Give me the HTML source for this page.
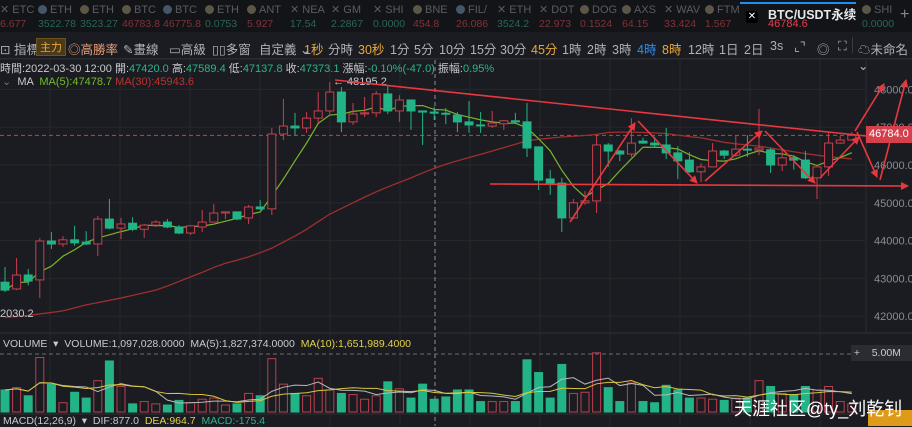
<!DOCTYPE html>
<html><head><meta charset="utf-8"><style>
*{margin:0;padding:0;box-sizing:border-box}
body{width:912px;height:426px;overflow:hidden;background:#1b1c21;font-family:"Liberation Sans","Noto Sans CJK TC",sans-serif;color:#9a9ca3;position:relative}
.abs{position:absolute;white-space:nowrap}
#ticker{position:absolute;left:0;top:0;width:912px;height:32px;background:#131417}
.tk{position:absolute;top:4px;font-size:11px;line-height:12px}
.tk .n{color:#5a5c62}.tk .v{display:block;margin-top:2px;font-size:10.5px;opacity:.8}
.ic{display:inline-block;width:9px;height:9px;border-radius:50%;background:#5b5645;vertical-align:-1px;margin-right:3px}
#tools{position:absolute;left:0;top:33px;width:912px;height:26px;border-bottom:1px solid #2b2c31;font-size:12.5px;color:#b0b2b8}
#tools span{position:absolute;top:6px}
svg{position:absolute;left:0;top:0}
</style></head><body>
<div id="ticker">
<div class="tk" style="left:0"><span class="n">✕ ETC</span><span class="v" style="color:#9b3a43">6.677</span></div>
<div class="tk" style="left:38px"><span class="n"><i class="ic" style="background:#45566a"></i>ETH</span><span class="v" style="color:#2f7b63">3522.78</span></div>
<div class="tk" style="left:80px"><span class="n"><i class="ic"></i>ETH</span><span class="v" style="color:#2f7b63">3523.27</span></div>
<div class="tk" style="left:122px"><span class="n"><i class="ic"></i>BTC</span><span class="v" style="color:#9b3a43">46783.8</span></div>
<div class="tk" style="left:163px"><span class="n"><i class="ic" style="background:#45566a"></i>BTC</span><span class="v" style="color:#9b3a43">46775.8</span></div>
<div class="tk" style="left:205px"><span class="n"><i class="ic"></i>ETH</span><span class="v" style="color:#2f7b63">0.0753</span></div>
<div class="tk" style="left:247px"><span class="n"><i class="ic"></i>ANT</span><span class="v" style="color:#9b3a43">5.927</span></div>
<div class="tk" style="left:290px"><span class="n">✕ NEA</span><span class="v" style="color:#2f7b63">17.54</span></div>
<div class="tk" style="left:331px"><span class="n">✕ GM</span><span class="v" style="color:#2f7b63">2.2867</span></div>
<div class="tk" style="left:373px"><span class="n">✕ SHI</span><span class="v" style="color:#2f7b63">0.0000</span></div>
<div class="tk" style="left:413px"><span class="n"><i class="ic"></i>BNE</span><span class="v" style="color:#9b3a43">454.8</span></div>
<div class="tk" style="left:456px"><span class="n"><i class="ic" style="background:#45566a"></i>FIL/</span><span class="v" style="color:#9b3a43">26.086</span></div>
<div class="tk" style="left:497px"><span class="n">✕ ETH</span><span class="v" style="color:#2f7b63">3524.2</span></div>
<div class="tk" style="left:539px"><span class="n">✕ DOT</span><span class="v" style="color:#9b3a43">22.973</span></div>
<div class="tk" style="left:580px"><span class="n"><i class="ic"></i>DOG</span><span class="v" style="color:#9b3a43">0.1524</span></div>
<div class="tk" style="left:622px"><span class="n"><i class="ic"></i>AXS</span><span class="v" style="color:#9b3a43">64.15</span></div>
<div class="tk" style="left:664px"><span class="n">✕ WAV</span><span class="v" style="color:#9b3a43">33.424</span></div>
<div class="tk" style="left:705px"><span class="n"><i class="ic"></i>FTM</span><span class="v" style="color:#9b3a43">1.567</span></div>
<div class="abs" style="left:740px;top:2px;width:116px;height:2px;background:#1f8ff0"></div>
<div class="abs" style="left:746px;top:11px;width:12px;height:12px;background:#000;border-radius:2px;color:#fff;font-size:10px;line-height:12px;text-align:center">✕</div>
<div class="abs" style="left:768px;top:4px;font-size:12.5px;font-weight:bold;color:#e6e7ea">BTC/USDT永续</div>
<div class="abs" style="left:768px;top:18px;font-size:11px;color:#e0404e">46784.6</div>
<div class="tk" style="left:862px"><span class="n"><i class="ic"></i>SHI</span><span class="v" style="color:#2f7b63">0.0000</span></div>
<div class="abs" style="left:900px;top:6px;font-size:16px;color:#888">+</div>
</div>
<div id="tools">
<span style="left:0">⊡ 指標</span>
<span style="left:36px;top:5px;background:#4a3a1a;color:#e8a93b;padding:0 3px;font-size:11px;border:1px solid #6a5420">主力</span>
<span style="left:68px;color:#e8a07a">◎高勝率</span>
<span style="left:123px">✎畫線</span>
<span style="left:169px">▭高級</span>
<span style="left:212px">▯▯多窗</span>
<span style="left:259px">自定義 ⌄</span>
<span style="left:304px;color:#e8a93b">1秒</span>
<span style="left:328px">分時</span>
<span style="left:358px;color:#e8a93b">30秒</span>
<span style="left:390px">1分</span>
<span style="left:414px">5分</span>
<span style="left:439px">10分</span>
<span style="left:470px">15分</span>
<span style="left:500px">30分</span>
<span style="left:531px;color:#e8a93b">45分</span>
<span style="left:562px">1時</span>
<span style="left:587px">2時</span>
<span style="left:612px">3時</span>
<span style="left:637px;color:#2f8cf0">4時</span>
<span style="left:662px;color:#e8a93b">8時</span>
<span style="left:688px">12時</span>
<span style="left:719px">1日</span>
<span style="left:744px">2日</span>
<span style="left:770px">3s</span>
<span style="left:794px">⌞⌝</span>
<span style="left:817px">◎</span>
<span style="left:838px">⛶</span>
<span style="left:852px;top:4px;width:1px;height:16px;background:#3a3b40"></span>
<span style="left:858px">☁未命名 ⌄</span>
</div>
<svg id="chart" width="912" height="426" style="top:0"></svg>
<div class="abs" style="left:0;top:60px;font-size:11px;color:#c8cacf">時間:2022-03-30 12:00 開:<b style="font-weight:normal;color:#2bb58a">47420.0</b> 高:<b style="font-weight:normal;color:#2bb58a">47589.4</b> 低:<b style="font-weight:normal;color:#2bb58a">47137.8</b> 收:<b style="font-weight:normal;color:#2bb58a">47373.1</b> 漲幅:<b style="font-weight:normal;color:#2bb58a">-0.10%(-47.0)</b> 振幅:<b style="font-weight:normal;color:#2bb58a">0.95%</b></div>
<div class="abs" style="left:2px;top:75px;font-size:11px;color:#c8cacf"><span style="color:#777">⌄</span>&nbsp; MA &nbsp;<span style="color:#6fbf2a">MA(5):47478.7</span> <span style="color:#b8332f">MA(30):45943.6</span></div>
<div class="abs" style="left:3px;top:338px;font-size:10.5px;color:#c8cacf">VOLUME &nbsp;▾ &nbsp;VOLUME:1,097,028.0000 &nbsp;MA(5):1,827,374.0000 &nbsp;<span style="color:#e3d24a">MA(10):1,651,989.4000</span></div>
<div class="abs" style="left:3px;top:415px;font-size:10.5px;color:#c8cacf">MACD(12,26,9) &nbsp;▾ &nbsp;DIF:877.0 &nbsp;<span style="color:#e3d24a">DEA:964.7</span> &nbsp;<span style="color:#2bb58a">MACD:-175.4</span></div>
<div class="abs" style="left:851px;top:345px;width:61px;height:16px;background:#2a2c33;font-size:10.5px;color:#c8cacf;line-height:16px">&nbsp;+ &nbsp;&nbsp;&nbsp;5.00M</div>
<div class="abs" style="left:866px;top:126px;width:46px;height:17px;background:#d6404d;color:#fff;font-size:11px;line-height:17px;padding-left:3px">46784.0</div>
<div class="abs" style="left:868px;top:410px;width:44px;height:16px;background:#e09a1a"></div>
<div class="abs" style="left:734px;top:395px;font-size:18px;color:#fff">天涯社区@ty_刘乾钊</div>
<script>
const opens=[42900,42720,43090,42960,43990,43910,44020,43960,43910,44570,44330,44460,44300,44410,44490,44360,44200,44360,44490,44730,44760,44600,44890,44840,46820,47030,46980,47240,47430,47930,47140,47350,47380,47880,47430,47720,47430,47400,47370,47320,47140,47060,47030,47090,47170,47140,46480,45630,45520,44600,45000,45050,46530,46370,46290,46630,46580,46530,46320,46130,45820,45950,46370,46260,46420,46400,46400,46000,46190,46130,45660,45950,46580,46660];
const highs=[43300,43540,43250,44070,44230,44120,44390,44250,44650,45100,44600,44620,44440,44540,44570,44410,44410,44810,44970,44770,44770,44940,45070,46980,47750,47380,47400,47930,48195,48060,47640,47800,47960,48090,47850,47720,47430,47540,47510,47400,47690,47400,47430,47190,47380,47640,46480,45870,45660,45100,45310,46790,46580,46400,47240,46720,46750,46980,46500,46340,46050,46580,46400,46790,46790,47480,46450,46400,46260,46370,45950,46870,46770,46870];
const lows=[42640,42690,42820,42480,43780,43830,43860,43880,43590,44300,44040,44250,44070,44360,44330,44170,44150,44230,44490,44570,44540,44440,44810,44680,46660,46790,46850,47110,47320,46870,47060,47270,47270,47350,47140,46930,46530,47190,47080,46870,46850,46850,46980,46930,47080,46210,45340,45210,44230,44570,44950,44730,45950,46100,46210,46560,46480,46160,45630,45790,45550,45950,46160,46210,46210,46260,45790,45840,45880,45630,45100,45710,46560,46640];
const closes=[42690,43090,42930,43990,43910,44020,43940,43910,44570,44330,44440,44300,44410,44490,44360,44200,44390,44490,44730,44760,44570,44890,44840,46820,47030,46980,47240,47430,47930,47140,47350,47380,47880,47430,47720,47430,47400,47370,47350,47140,47060,47050,47110,47170,47140,46450,45600,45520,44600,45000,45050,46530,46370,46290,46580,46580,46530,46320,46110,45820,45950,46370,46260,46420,46400,46450,46000,46190,46130,45660,45950,46580,46660,46785];
const ma30=[41970,41990,42020,42060,42100,42140,42220,42300,42360,42420,42480,42550,42620,42690,42800,42920,43040,43160,43290,43400,43480,43570,43680,43800,43960,44120,44300,44500,44700,44850,45000,45150,45290,45420,45540,45660,45790,45910,46020,46110,46200,46280,46370,46460,46550,46640,46680,46710,46740,46760,46780,46810,46860,46870,46870,46860,46850,46830,46790,46750,46720,46660,46600,46560,46530,46500,46450,46400,46350,46300,46260,46220,46190,46160];
const volumes=[1.9,2.1,1.4,4.7,2.4,0.8,1.7,1.2,2.7,4.4,2.2,0.7,0.9,0.7,0.6,1.0,0.8,1.1,1.2,0.6,0.7,1.6,1.4,4.6,2.4,1.6,1.4,2.9,1.9,1.6,1.5,1.1,1.4,2.6,2.0,1.2,2.4,1.1,1.3,1.9,1.9,0.9,0.9,0.9,0.9,4.5,3.4,1.2,4.1,1.6,1.7,5.1,2.1,0.9,2.5,0.9,0.8,2.3,1.9,1.2,1.2,1.1,1.0,1.2,1.2,2.7,2.2,1.6,1.5,2.2,1.9,2.2,0.9,0.7];
const priceTicks=[48000,47000,46000,45000,44000,43000,42000];
const lastPrice=46784;

const svg=document.getElementById('chart');
const NS='http://www.w3.org/2000/svg';
const xOf=i=>5+11.6*i;
const yP=v=>165-(v-46000)*0.0378;
const yV=v=>412-v*11.6;
function mk(tag,attrs){const e=document.createElementNS(NS,tag);for(const k in attrs)e.setAttribute(k,attrs[k]);svg.appendChild(e);return e;}
let e;
e=mk('line',{x1:0,y1:59,x2:912,y2:59,stroke:'#2b2c31'});

e=mk('line',{x1:0,y1:333,x2:912,y2:333,stroke:'#2e2f35'});

e=mk('line',{x1:0,y1:414,x2:912,y2:414,stroke:'#2e2f35'});

for(let gx=50;gx<866;gx+=70){
 e=mk('line',{x1:gx,y1:60,x2:gx,y2:426,stroke:'#26272c'});
 
}
priceTicks.forEach(p=>{
 e=mk('line',{x1:0,y1:yP(p),x2:866,y2:yP(p),stroke:'#26272c'});
 
 e=mk('text',{x:874,y:yP(p)+4,fill:'#8a8c92','font-size':11,'font-family':'Liberation Sans'});
 e.textContent=p.toFixed(1);
 
});
e=mk('line',{x1:866,y1:60,x2:866,y2:333,stroke:'#2b2c31'});

e=mk('line',{x1:435,y1:60,x2:435,y2:426,stroke:'#8d8f95','stroke-dasharray':'4 3'});

e=mk('line',{x1:0,y1:354,x2:866,y2:354,stroke:'#6a6c72','stroke-dasharray':'4 3'});

e=mk('line',{x1:0,y1:yP(lastPrice),x2:866,y2:yP(lastPrice),stroke:'#c8404e','stroke-dasharray':'4 3'});

e=mk('polyline',{points:ma30.map((v,i)=>xOf(i)+','+yP(v)).join(' '),fill:'none',stroke:'#9e2f2c','stroke-width':1.3});

const ma5=closes.map((c,i)=>{const s=closes.slice(Math.max(0,i-4),i+1);return s.reduce((a,b)=>a+b,0)/s.length;});
e=mk('polyline',{points:ma5.map((v,i)=>xOf(i)+','+yP(v)).join(' '),fill:'none',stroke:'#76b52c','stroke-width':1.2});

closes.forEach((c,i)=>{
 const up=c>=opens[i];const col=up?'#c8404e':'#22b386';const x=xOf(i);
 const top=yP(Math.max(c,opens[i])),bot=yP(Math.min(c,opens[i]));
 e=mk('line',{x1:x,y1:yP(highs[i]),x2:x,y2:top,stroke:col});
 
 e=mk('line',{x1:x,y1:bot,x2:x,y2:yP(lows[i]),stroke:col});
 
 e=mk('rect',{x:x-4,y:top,width:8,height:Math.max(1,bot-top),fill:up?'#1b1c21':col,stroke:col});
 
});
volumes.forEach((v,i)=>{
 const up=closes[i]>=opens[i];const col=up?'#b8404d':'#22b386';
 e=mk('rect',{x:xOf(i)-4,y:yV(v),width:8,height:412-yV(v),fill:up?'none':col,stroke:col});
 
});
const vma=n=>volumes.map((v,i)=>{const s=volumes.slice(Math.max(0,i-n+1),i+1);return s.reduce((a,b)=>a+b,0)/s.length;});
e=mk('polyline',{points:vma(5).map((v,i)=>xOf(i)+','+yV(v)).join(' '),fill:'none',stroke:'#b8b9bd','stroke-width':1});

e=mk('polyline',{points:vma(10).map((v,i)=>xOf(i)+','+yV(v)).join(' '),fill:'none',stroke:'#d8c83a','stroke-width':1});

e=mk('text',{x:333,y:85,fill:'#c8cacf','font-size':11,'font-family':'Liberation Sans'});
e.textContent='← 48195.2';

e=mk('text',{x:0,y:317,fill:'#c8cacf','font-size':11,'font-family':'Liberation Sans'});
e.textContent='2030.2';

const defs=mk('defs',{});
defs.innerHTML='<marker id="ah" markerWidth="8" markerHeight="8" refX="7" refY="4" orient="auto" markerUnits="userSpaceOnUse"><path d="M0,0 L8,4 L0,8 z" fill="#e8383f"/></marker>';
const segs=[[335,80,866,136,0],[490,184,908,186,1],[570,222,635,123,1],[638,121,697,183,1],[705,181,762,131,1],[765,131,815,183,1],[820,178,859,137,1],[855,131,884,84,1],[857,132,877,177,1],[880,180,906,80,1]];
segs.forEach(s=>{
 e=mk('line',{x1:s[0],y1:s[1],x2:s[2],y2:s[3],stroke:'#e8383f','stroke-width':1.6});
 if(s[4])e.setAttribute('marker-end','url(#ah)');
 
});
</script>
</body></html>
